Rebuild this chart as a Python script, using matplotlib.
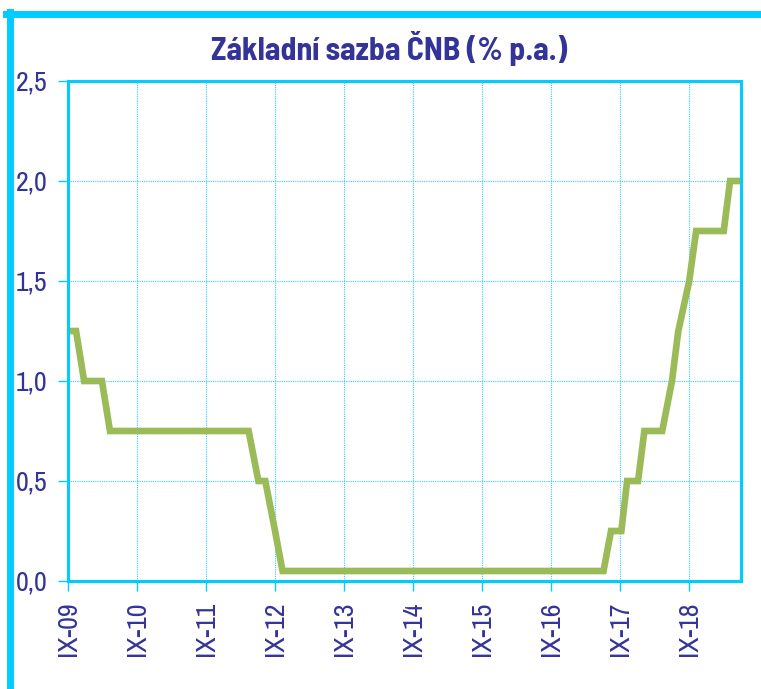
import matplotlib
matplotlib.use("Agg")
import matplotlib.pyplot as plt
from matplotlib.lines import Line2D

# months since IX-09 and the CNB base rate in % p.a.
months = [0, 1.4, 2.8, 5.9, 7.3, 31.4, 33.1, 34.3, 36.0, 37.3,
          93.1, 94.4, 96.2, 97.2, 99.1, 100.2, 103.3, 105.0, 106.1,
          108.0, 109.2, 114.0, 115.1, 117.2]
rate = [1.25, 1.25, 1.0, 1.0, 0.75, 0.75, 0.5, 0.5, 0.25, 0.05,
        0.05, 0.25, 0.25, 0.5, 0.5, 0.75, 0.75, 1.0, 1.25,
        1.5, 1.75, 1.75, 2.0, 2.0]

tick_months = [0, 12, 24, 36, 48, 60, 72, 84, 96, 108]
tick_labels = ["IX-09", "IX-10", "IX-11", "IX-12", "IX-13",
               "IX-14", "IX-15", "IX-16", "IX-17", "IX-18"]
y_ticks = [0.0, 0.5, 1.0, 1.5, 2.0, 2.5]

navy = "#333399"
cyan = "#00CCFF"
plt.rcParams["font.family"] = ["Archivo Narrow", "Liberation Sans", "DejaVu Sans"]

fig = plt.figure(figsize=(7.61, 6.89), dpi=100)
ax = fig.add_axes([68 / 761, 1 - 581 / 689, 673 / 761, 500 / 689])

ax.plot(months, rate, color="#9BBB59", linewidth=4.8, solid_joinstyle="miter")

ax.set_xlim(0, 117)
ax.set_ylim(0, 2.5)
ax.set_xticks(tick_months)
ax.set_xticklabels(tick_labels, rotation=90)
ax.set_yticks(y_ticks)
ax.set_yticklabels([f"{v:.1f}".replace(".", ",") for v in y_ticks])

ax.grid(True, color="#33CCFF", linestyle=(0, (1, 1)), linewidth=0.8)
ax.set_axisbelow(True)
for s in ax.spines.values():
    s.set_color(cyan)
    s.set_linewidth(2.2)

ax.tick_params(axis="both", colors=cyan, length=7, width=1, labelsize=20,
               labelcolor=navy)
ax.tick_params(axis="y", pad=8)
ax.tick_params(axis="x", pad=8)

fig.text(389 / 761, 1 - 48 / 689, "Základní sazba ČNB (% p.a.)",
         ha="center", va="center", fontsize=23, fontweight="bold", color=navy,
         family=["Barlow Semi Condensed", "Liberation Sans", "DejaVu Sans"])

# thick cyan frame at top and left
fig.add_artist(Line2D([6 / 761, 1.0], [1 - 14 / 689, 1 - 14 / 689],
                      color=cyan, linewidth=5, transform=fig.transFigure))
fig.add_artist(Line2D([9.5 / 761, 9.5 / 761], [0, 1 - 12 / 689],
                      color=cyan, linewidth=5, transform=fig.transFigure))

fig.savefig("out.png", dpi=100)
